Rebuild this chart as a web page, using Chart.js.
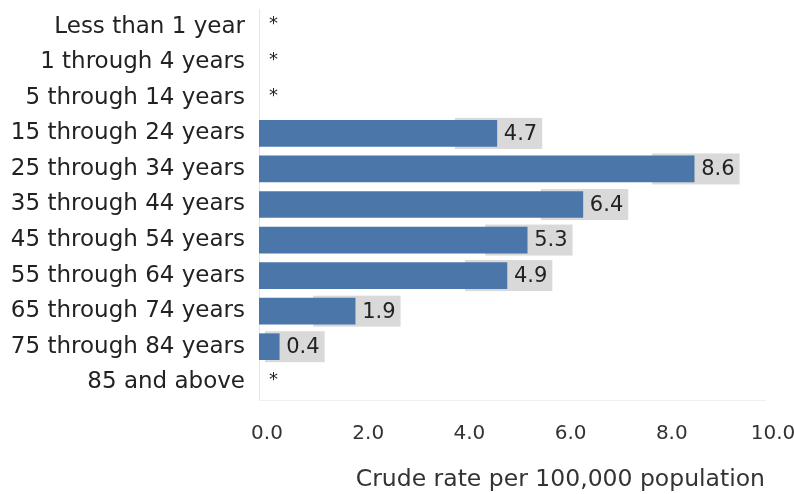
<!DOCTYPE html>
<html><head><meta charset="utf-8">
<script src="https://cdn.jsdelivr.net/npm/chart.js@4/dist/chart.umd.min.js"></script>
<style>html,body{margin:0;padding:0;background:#fff}#wrap{width:794px;height:494px}</style>
</head><body><div id="wrap"><canvas id="c" width="794" height="494"></canvas></div>
<script>
const categories = ["Less than 1 year","1 through 4 years","5 through 14 years","15 through 24 years","25 through 34 years","35 through 44 years","45 through 54 years","55 through 64 years","65 through 74 years","75 through 84 years","85 and above"];
const rates = [null,null,null,4.7,8.6,6.4,5.3,4.9,1.9,0.4,null];
const xTicks = [0,2,4,6,8,10];
const axisTitle = "Crude rate per 100,000 population";
const FONT = "'DejaVu Sans', sans-serif";

const labelPlugin = {
  id:'valLabels',
  beforeDatasetsDraw(chart){
    const ctx=chart.ctx, meta=chart.getDatasetMeta(0), xs=chart.scales.x;
    ctx.save();
    ctx.font = "21px " + FONT;
    meta.data.forEach((bar,i)=>{
      const v=rates[i]; if(v===null) return;
      const txt=v.toFixed(1);
      const w=ctx.measureText(txt).width;
      const x0=xs.getPixelForValue(0);
      const left=Math.max(x0+6, bar.x-42);
      ctx.fillStyle='#d9d9d9';
      ctx.fillRect(left, bar.y-15.5, bar.x+8+w+4-left, 31);
    });
    ctx.restore();
  },
  afterDatasetsDraw(chart){
    const ctx=chart.ctx, meta=chart.getDatasetMeta(0), xs=chart.scales.x;
    ctx.save();
    ctx.fillStyle='#222';
    ctx.textBaseline='middle';
    meta.data.forEach((bar,i)=>{
      const v=rates[i];
      if(v===null){
        ctx.font="18px " + FONT;
        ctx.fillText('*', xs.getPixelForValue(0)+10, bar.y-2);
      } else {
        ctx.font="21px " + FONT;
        ctx.fillText(v.toFixed(1), bar.x+7, bar.y+1);
      }
    });
    ctx.restore();
  }
};

new Chart(document.getElementById('c'),{
  type:'bar',
  data:{labels:categories,datasets:[{data:rates,backgroundColor:'#4a76aa',barThickness:26,borderWidth:0}]},
  options:{
    indexAxis:'y',responsive:false,animation:false,
    layout:{padding:{top:9,right:29,left:0,bottom:0}},
    plugins:{legend:{display:false},tooltip:{enabled:false}},
    scales:{
      y:{
        grid:{display:false,drawTicks:false},
        border:{color:'#e4e4e4',width:1},
        ticks:{color:'#222',font:{family:FONT,size:23},padding:14},
        afterFit(s){s.width=259;s.paddingTop=0;s.paddingBottom=0;}
      },
      x:{
        min:0,max:10,
        afterBuildTicks(s){s.ticks=xTicks.map(v=>({value:v}));},
        grid:{display:false,drawTicks:false},
        border:{color:'#f0f0f0',width:1},
        ticks:{color:'#333',font:{family:FONT,size:20},padding:22,labelOffset:8,maxRotation:0,callback:v=>v.toFixed(1)},
        title:{display:true,text:axisTitle,align:'end',color:'#333',font:{family:FONT,size:23.5},padding:{top:12,bottom:0}},
        afterFit(s){s.height=94;s.paddingLeft=0;s.paddingRight=0;}
      }
    }
  },
  plugins:[labelPlugin]
});
</script></body></html>
